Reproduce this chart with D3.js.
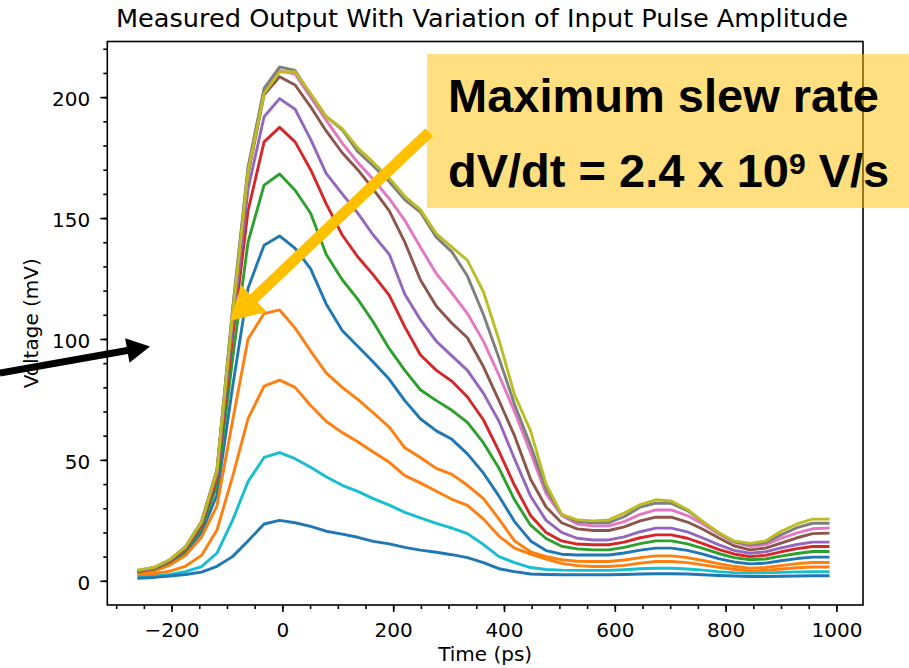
<!DOCTYPE html>
<html>
<head>
<meta charset="utf-8">
<script src="https://cdn.jsdelivr.net/npm/d3@7"></script>
<style>
  body { margin: 0; background: #fff; }
  #chart svg { display: block; }
</style>
</head>
<body>
<div id="chart"></div>
<script>
/* Data */
var timePs = [-259, -231, -203, -175, -146, -118, -90, -62, -33, -5, 23, 51, 79, 108, 136,
  164, 193, 221, 249, 278, 306, 334, 363, 391, 419, 448, 476, 504, 532, 561,
  589, 617, 646, 674, 702, 731, 759, 787, 815, 844, 872, 900, 929, 957, 985];

var pulse1 = [3.5, 4.5, 7.2, 11.5, 20, 35.5, 80, 121, 138.8, 142.6, 137.5, 129, 114.5, 103.5, 97,
  90.5, 83.3, 74.5, 67, 62, 58.5, 52.5, 44.5, 35, 24.5, 16.5, 12.5, 11, 10.7, 10.7,
  10.7, 11.5, 12.7, 13.5, 13.5, 12.6, 11, 9.2, 7.8, 7, 7.3, 8.3, 9.2, 9.8, 9.8];
var pulse2 = [3.2, 4, 6.5, 10.5, 18, 31, 66, 100, 110.5, 112, 104.5, 95, 86, 80, 75,
  69.5, 63.5, 55, 51, 46.5, 44, 39.5, 34, 25.5, 16.5, 12, 10, 8.7, 8.1, 8,
  8, 8.6, 9.6, 10.3, 10.3, 9.6, 8.4, 7.1, 6, 5.2, 5.5, 6.3, 7.1, 7.6, 7.6];
var pulse3 = [3.8, 4.9, 7.7, 12.5, 21.8, 39.5, 91.5, 140, 163.6, 168.2, 161.5, 152, 135, 124.5, 116.5,
  107, 96, 87, 79, 74.5, 70.5, 65.5, 57, 46.5, 33.5, 23, 17.5, 14.3, 13.2, 12.8,
  12.8, 13.8, 15.4, 16.5, 16.5, 15.3, 13.4, 11.3, 9.6, 8.7, 9, 10.2, 11.3, 12.1, 12.1];
var pulse4 = [4.0, 5.1, 8.1, 13.1, 22.9, 42.3, 100.5, 153, 181.5, 187.5, 181.5, 170, 156, 143, 134,
  126.5, 118, 105, 93.5, 87, 82.5, 76, 66.5, 53.5, 39.5, 27, 20, 16.5, 15.2, 14.9,
  14.9, 16, 17.8, 19, 19, 17.6, 15.4, 13, 11.1, 10, 10.5, 12, 13.3, 14.2, 14.2];
var pulse5 = [4.1, 5.3, 8.4, 13.5, 23.7, 44, 105, 162, 191.9, 199.4, 195, 182.5, 168.5, 160, 152,
  143, 135, 118.5, 108, 99, 93, 87, 77.5, 66, 50.5, 35, 25, 20, 17.6, 16.9,
  16.9, 18.2, 20.3, 21.8, 21.8, 20.2, 17.7, 15, 12.6, 11.4, 12, 13.6, 15, 16, 16];
var pulse6 = [4.2, 5.4, 8.6, 13.8, 24.2, 45.4, 110, 168, 201, 208.4, 205, 196, 186, 177, 170,
  162, 153, 140, 124.5, 113.5, 106.5, 100.5, 88.5, 74.5, 60, 42, 30.5, 24, 21.5, 20.8,
  20.8, 22.3, 24.8, 26.3, 26.3, 24.3, 21.3, 17.8, 14.5, 12.8, 13.5, 15.6, 17.8, 19.5, 19.7];
var pulse7 = [4.3, 5.5, 8.7, 14, 24.4, 45.8, 111.3, 170, 203, 211, 209.5, 200, 190.5, 181, 173,
  166, 158, 149, 138, 127, 119, 110.5, 99, 85, 70, 53, 36, 27, 23.5, 22.7,
  22.7, 24.5, 27.5, 29.3, 29.3, 27, 23.5, 19.5, 16, 14.2, 15, 17.5, 19.8, 21.5, 21.8];
var pulse8 = [4.3, 5.5, 8.7, 14, 24.5, 46, 112, 171, 203.6, 212.5, 211, 201, 192, 186.5, 177.5,
  171.5, 165, 157.5, 152.5, 142, 136, 126, 110, 92, 73, 56, 38, 27.5, 24.5, 24,
  24, 26.5, 30.5, 32.1, 32, 29, 24.5, 19.8, 16.2, 14.9, 15.8, 19, 22, 23.8, 23.8];
var pulse9 = [4.5, 5.6, 8.8, 14, 24.3, 45.5, 110, 169, 201.5, 210.4, 210.5, 201.5, 192, 187, 179,
  173, 166.5, 159, 153.5, 143.5, 138, 132.5, 119.5, 99.5, 77, 62, 40, 27.5, 25.2, 24.8,
  25.2, 28, 31.5, 33.5, 33, 29.5, 24.5, 20, 16.5, 15.5, 16.5, 20.5, 23.5, 25.5, 25.5];
var pulse10 = [1.8, 2.1, 2.6, 3.8, 5.9, 11.5, 25, 41, 51, 53, 50.5, 47, 43, 39.5, 37,
  34, 31.3, 28.3, 26, 23.8, 21.8, 19.5, 15, 10, 7.5, 5.5, 4.7, 4.4, 4.3, 4.3,
  4.3, 4.6, 5, 5.2, 5.2, 4.9, 4.4, 3.8, 3.4, 3.2, 3.3, 3.5, 3.7, 3.8, 3.8];
var pulse11 = [1.1, 1.4, 2.0, 2.6, 3.6, 6.0, 10, 16.5, 23.5, 25, 24, 22.5, 20.5, 19.3, 18,
  16.3, 15.3, 13.8, 12.7, 11.8, 10.8, 9.6, 7.5, 5, 3.8, 2.8, 2.6, 2.5, 2.5, 2.5,
  2.5, 2.6, 2.8, 2.9, 2.9, 2.8, 2.5, 2.2, 2.0, 1.8, 1.8, 1.9, 2.0, 2.1, 2.1];
var pulse12 = [2.5, 3, 4, 6, 10.5, 21, 43, 67, 80.5, 83, 80, 72.5, 66, 61.3, 57.5,
  53.3, 49, 43.5, 40.5, 37, 33.7, 31.2, 25.5, 18.5, 13.5, 11, 9, 7.2, 6.3, 5.9,
  5.9, 6.4, 7.3, 8, 8, 7.5, 6.6, 5.6, 4.8, 4.1, 4.3, 4.9, 5.4, 5.7, 5.7];

var xTicks = [-200, 0, 200, 400, 600, 800, 1000];
var yTicks = [0, 50, 100, 150, 200];

var titleText = "Measured Output With Variation of Input Pulse Amplitude";
var noteLine1 = "Maximum slew rate";

var traces = [pulse1, pulse2, pulse3, pulse4, pulse5, pulse6,
  pulse7, pulse8, pulse9, pulse10, pulse11, pulse12];

var width = 909;
var height = 668;
var plot = {left: 107.3, right: 863, top: 41.5, bottom: 605};

var tickFont = "'DejaVu Sans', sans-serif";
var noteFont = "'Liberation Sans', Arial, sans-serif";
var gold = "#ffc000";


/* Scale */
var xScale = d3.scaleLinear()
  .domain([-316, 1048])
  .range([plot.left, plot.right]);

var yScale = d3.scaleLinear()
  .domain([-10, 223])
  .range([plot.bottom, plot.top]);

var color = d3.scaleOrdinal(d3.schemeCategory10);


/* Add SVG */
var svg = d3.select("#chart").append("svg")
  .attr("width", width)
  .attr("height", height);

svg.append("rect")
  .attr("width", width)
  .attr("height", height)
  .attr("fill", "#fff");


/* Lines */
var line = d3.line()
  .x((d, i) => xScale(timePs[i]))
  .y(d => yScale(d));

svg.append("g")
  .attr("class", "lines")
  .selectAll("path")
  .data(traces).enter()
  .append("path")
  .attr("d", d => line(d))
  .attr("fill", "none")
  .attr("stroke", (d, i) => color(i))
  .attr("stroke-width", 2.9)
  .attr("stroke-linejoin", "round")
  .attr("stroke-linecap", "square");


/* Axes */
var xAxis = d3.axisBottom(xScale).tickValues(xTicks).tickSize(7).tickPadding(11)
  .tickFormat(d3.format("d"));
var yAxis = d3.axisLeft(yScale).tickValues(yTicks).tickSize(7).tickPadding(10)
  .tickFormat(d3.format("d"));
var xMinor = d3.axisBottom(xScale).tickValues(d3.range(-300, 1001, 50)).tickSize(4).tickFormat("");
var yMinor = d3.axisLeft(yScale).tickValues(d3.range(0, 221, 10)).tickSize(4).tickFormat("");

function styleAxis(g) {
  g.select(".domain").remove();
  g.selectAll("line").attr("stroke", "#000").attr("stroke-width", 1.6);
  g.selectAll("text")
    .attr("fill", "#000")
    .style("font-family", tickFont)
    .style("font-size", "20px");
}

svg.append("g")
  .attr("transform", `translate(0, ${plot.bottom})`)
  .call(xMinor).call(styleAxis);
svg.append("g")
  .attr("transform", `translate(0, ${plot.bottom})`)
  .call(xAxis).call(styleAxis);
svg.append("g")
  .attr("transform", `translate(${plot.left}, 0)`)
  .call(yMinor).call(styleAxis);
svg.append("g")
  .attr("transform", `translate(${plot.left}, 0)`)
  .call(yAxis).call(styleAxis)
  .selectAll("text").attr("dy", "0.44em");

svg.append("rect")
  .attr("x", plot.left)
  .attr("y", plot.top)
  .attr("width", plot.right - plot.left)
  .attr("height", plot.bottom - plot.top)
  .attr("fill", "none")
  .attr("stroke", "#000")
  .attr("stroke-width", 1.6);


/* Titles */
svg.append("text")
  .attr("x", 482)
  .attr("y", 27)
  .attr("text-anchor", "middle")
  .style("font-family", tickFont)
  .style("font-size", "25.6px")
  .text(titleText);

svg.append("text")
  .attr("x", (plot.left + plot.right) / 2)
  .attr("y", 661)
  .attr("text-anchor", "middle")
  .style("font-family", tickFont)
  .style("font-size", "20px")
  .text("Time (ps)");

svg.append("text")
  .attr("transform", `translate(38, ${(plot.top + plot.bottom) / 2}) rotate(-90)`)
  .attr("text-anchor", "middle")
  .style("font-family", tickFont)
  .style("font-size", "20px")
  .text("Voltage (mV)");


/* Annotation arrows, placed in data units */
function arrow(from, to, shaft, headLen, headW, fill) {
  var x1 = xScale(from[0]), y1 = yScale(from[1]);
  var x2 = xScale(to[0]), y2 = yScale(to[1]);
  var len = Math.hypot(x2 - x1, y2 - y1);
  var ux = (x2 - x1) / len, uy = (y2 - y1) / len;
  var nx = -uy, ny = ux;
  var bx = x2 - ux * headLen, by = y2 - uy * headLen;
  var pts = [
    [x1 + nx * shaft / 2, y1 + ny * shaft / 2],
    [bx + nx * shaft / 2, by + ny * shaft / 2],
    [bx + nx * headW / 2, by + ny * headW / 2],
    [x2, y2],
    [bx - nx * headW / 2, by - ny * headW / 2],
    [bx - nx * shaft / 2, by - ny * shaft / 2],
    [x1 - nx * shaft / 2, y1 - ny * shaft / 2]
  ];
  svg.append("polygon")
    .attr("points", pts.map(p => p.join(",")).join(" "))
    .attr("fill", fill);
}

arrow([265, 185.5], [-94.6, 107.4], 11, 33, 37, gold);
arrow([-510, 85.9], [-239, 96.9], 7, 23, 25, "#000");


/* Note box */
var note = svg.append("g");
note.append("rect")
  .attr("x", 427)
  .attr("y", 54)
  .attr("width", width - 427)
  .attr("height", 154)
  .attr("fill", gold)
  .attr("fill-opacity", 0.5);

note.append("text")
  .attr("x", 448)
  .attr("y", 112)
  .style("font-family", noteFont)
  .style("font-weight", "bold")
  .style("font-size", "47px")
  .text(noteLine1);

var line2 = note.append("text")
  .attr("x", 448)
  .attr("y", 187)
  .style("font-family", noteFont)
  .style("font-weight", "bold")
  .style("font-size", "47px");
line2.append("tspan").text("dV/dt = 2.4 x 10");
line2.append("tspan").attr("dy", -13).style("font-size", "30px").text("9");
line2.append("tspan").attr("dy", 13).text(" V/s");
</script>
</body>
</html>
